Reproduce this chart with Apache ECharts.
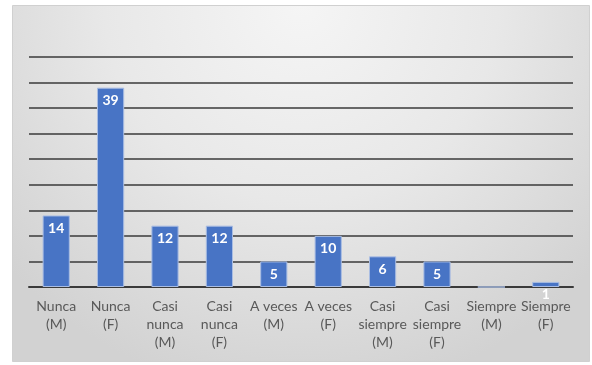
<!DOCTYPE html>
<html><head><meta charset="utf-8">
<script src="https://cdn.jsdelivr.net/npm/echarts@6/dist/echarts.min.js"></script>
<style>html,body{margin:0;padding:0;background:#fff}#c{width:592px;height:365px}</style>
</head><body><div id="c"></div>
<script>
const categories = ["Nunca\n(M)","Nunca\n(F)","Casi\nnunca\n(M)","Casi\nnunca\n(F)","A veces\n(M)","A veces\n(F)","Casi\nsiempre\n(M)","Casi\nsiempre\n(F)","Siempre\n(M)","Siempre\n(F)"];
const values = [14,39,12,12,5,10,6,5,0,1];
const yMax = 45, yStep = 5;

const chart = echarts.init(document.getElementById('c'));
chart.setOption({
  backgroundColor: '#ffffff',
  animation: false,
  graphic: [{
    type: 'rect', z: -10, silent: true,
    shape: {x: 12.5, y: 5.5, width: 577, height: 356},
    style: {
      fill: new echarts.graphic.RadialGradient(0.5, 0.0, 1.1, [
        {offset: 0, color: '#f5f5f5'},
        {offset: 0.5, color: '#e8e8e8'},
        {offset: 1, color: '#d2d2d2'}
      ]),
      stroke: '#d0d0d0', lineWidth: 1
    }
  }],
  grid: {left: 29, right: 19, top: 57, bottom: 78},
  xAxis: {
    type: 'category', data: categories,
    axisLine: {show: true, lineStyle: {color: '#3a3a3a', width: 2}},
    axisTick: {show: false},
    axisLabel: {interval: 0, color: '#595959', fontSize: 14, fontFamily: 'Lato', lineHeight: 18, margin: 10}
  },
  yAxis: {
    type: 'value', min: 0, max: yMax, interval: yStep,
    axisLabel: {show: false}, axisLine: {show: false}, axisTick: {show: false},
    splitLine: {lineStyle: {color: '#3a3a3a', width: 1.5}}
  },
  series: [{
    type: 'bar', data: values, barWidth: '50%',
    itemStyle: {color: '#4874C5', borderColor: '#a9bde3', borderWidth: 1},
    label: {show: true, position: 'insideTop', distance: 6, color: '#ffffff', fontWeight: 'bold', fontSize: 14, fontFamily: 'Lato',
      formatter: p => p.value === 0 ? '' : p.value}
  }]
});
</script></body></html>
